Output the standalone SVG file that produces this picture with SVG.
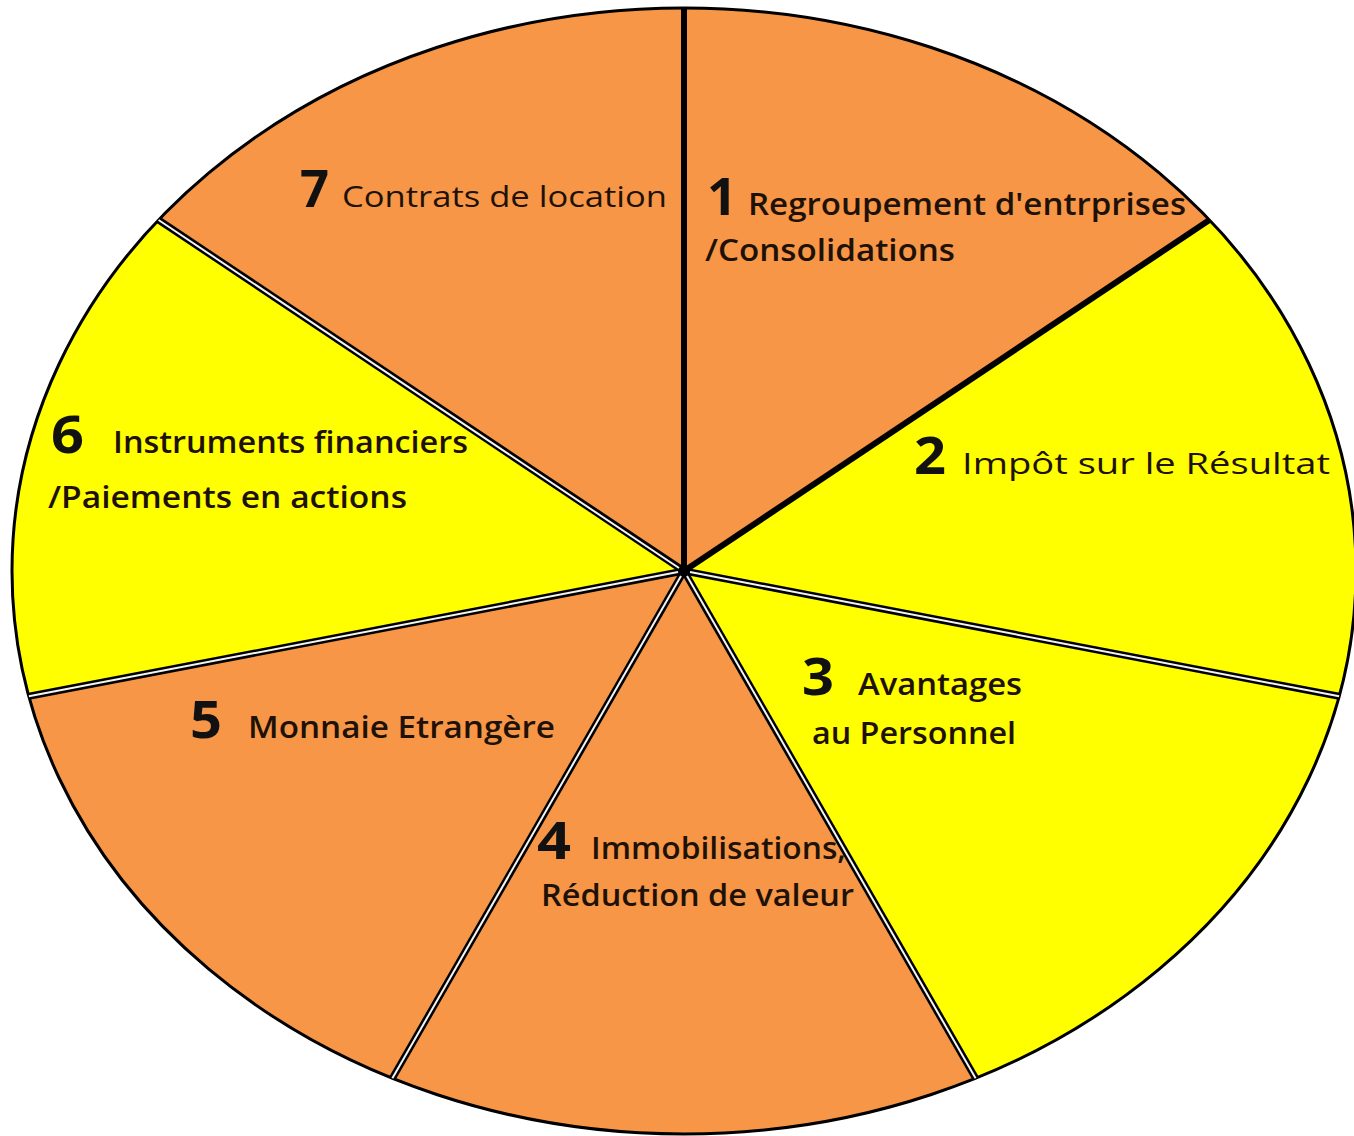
<svg xmlns="http://www.w3.org/2000/svg" width="1354" height="1136" viewBox="0 0 1354 1136">
<style>
.or{fill:#F79646}
.ye{fill:#FFFF00}
.num{font-family:"Open Sans","Liberation Sans",sans-serif;font-weight:700;font-size:52px;fill:#111}
.lbl{font-family:"Open Sans","Liberation Sans",sans-serif;font-weight:600;font-size:30px;fill:#1e1208}
.reg{font-weight:400}
.div{stroke:#000;stroke-width:7;stroke-linecap:butt}
.divin{stroke:#f4f4f4;stroke-width:2}
.solid{stroke:#000;stroke-width:6}
</style>
<rect width="1354" height="1136" fill="#fff"/>
<g id="slice1">
<path class="or" d="M684 571 L684 8 A672 563 0 0 1 1209.4 220 Z"/>
<text class="num" x="707" y="215" textLength="30" lengthAdjust="spacingAndGlyphs">1</text>
<text class="lbl" x="748" y="215" textLength="438" lengthAdjust="spacingAndGlyphs">Regroupement d'entrprises</text>
<text class="lbl" x="705" y="261" textLength="250" lengthAdjust="spacingAndGlyphs">/Consolidations</text>
</g>
<g id="slice2">
<path class="ye" d="M684 571 L1209.4 220 A672 563 0 0 1 1339.1 696.3 Z"/>
<text class="num" x="914" y="474" textLength="32" lengthAdjust="spacingAndGlyphs">2</text>
<text class="lbl reg" x="962" y="474" textLength="368" lengthAdjust="spacingAndGlyphs">Impôt sur le Résultat</text>
</g>
<g id="slice3">
<path class="ye" d="M684 571 L1339.1 696.3 A672 563 0 0 1 975.6 1078.3 Z"/>
<text class="num" x="802" y="695" textLength="32" lengthAdjust="spacingAndGlyphs">3</text>
<text class="lbl" x="858" y="695" textLength="164" lengthAdjust="spacingAndGlyphs">Avantages</text>
<text class="lbl" x="812" y="744" textLength="204" lengthAdjust="spacingAndGlyphs">au Personnel</text>
</g>
<g id="slice4">
<path class="or" d="M684 571 L975.6 1078.3 A672 563 0 0 1 392.4 1078.3 Z"/>
<text class="num" x="537" y="859" textLength="34" lengthAdjust="spacingAndGlyphs">4</text>
<text class="lbl" x="591" y="859" textLength="255" lengthAdjust="spacingAndGlyphs">Immobilisations,</text>
<text class="lbl" x="541" y="906" textLength="313" lengthAdjust="spacingAndGlyphs">Réduction de valeur</text>
</g>
<g id="slice5">
<path class="or" d="M684 571 L392.4 1078.3 A672 563 0 0 1 28.9 696.3 Z"/>
<text class="num" x="190" y="738" textLength="32" lengthAdjust="spacingAndGlyphs">5</text>
<text class="lbl" x="248" y="738" textLength="307" lengthAdjust="spacingAndGlyphs">Monnaie  Etrangère</text>
</g>
<g id="slice6">
<path class="ye" d="M684 571 L28.9 696.3 A672 563 0 0 1 158.6 220 Z"/>
<text class="num" x="51" y="453" textLength="33" lengthAdjust="spacingAndGlyphs">6</text>
<text class="lbl" x="113" y="453" textLength="355" lengthAdjust="spacingAndGlyphs">Instruments  financiers</text>
<text class="lbl" x="48" y="508" textLength="359" lengthAdjust="spacingAndGlyphs">/Paiements en actions</text>
</g>
<g id="slice7">
<path class="or" d="M684 571 L158.6 220 A672 563 0 0 1 684 8 Z"/>
<text class="num" x="300" y="207" textLength="29" lengthAdjust="spacingAndGlyphs">7</text>
<text class="lbl reg" x="342" y="207" textLength="325" lengthAdjust="spacingAndGlyphs">Contrats de location</text>
</g>
<g id="dividers" fill="none">
<ellipse cx="684" cy="571" rx="672" ry="563" stroke="#000" stroke-width="3"/>
<line class="solid" x1="684" y1="571" x2="684" y2="8"/>
<line class="solid" x1="684" y1="571" x2="1209.4" y2="220"/>
<line class="div" x1="684" y1="571" x2="1339.1" y2="696.3"/>
<line class="div" x1="684" y1="571" x2="975.6" y2="1078.3"/>
<line class="div" x1="684" y1="571" x2="392.4" y2="1078.3"/>
<line class="div" x1="684" y1="571" x2="28.9" y2="696.3"/>
<line class="div" x1="684" y1="571" x2="158.6" y2="220"/>
<line class="divin" x1="690" y1="572" x2="1339.1" y2="696.3"/>
<line class="divin" x1="687" y1="576" x2="975.6" y2="1078.3"/>
<line class="divin" x1="681" y1="576" x2="392.4" y2="1078.3"/>
<line class="divin" x1="678" y1="572" x2="28.9" y2="696.3"/>
<line class="divin" x1="679" y1="568" x2="158.6" y2="220"/>
</g>
</svg>
